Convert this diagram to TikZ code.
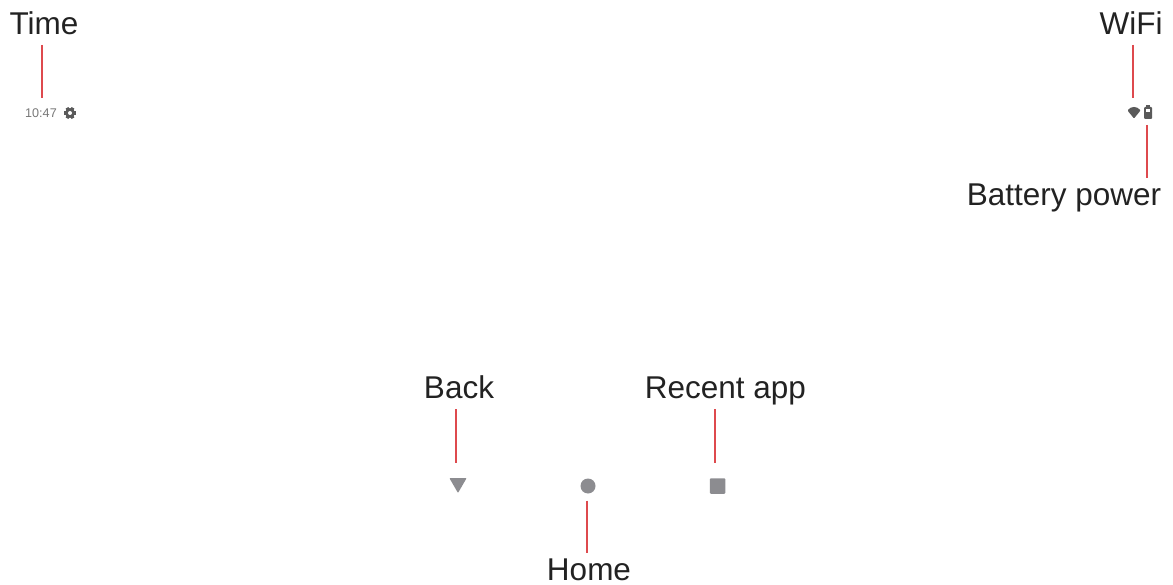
\documentclass[tikz,border=0pt]{standalone}
\usepackage{fontspec}
\setmainfont{Liberation Sans}
\usetikzlibrary{shapes.geometric}
\definecolor{leadred}{HTML}{DE4A4E}
\definecolor{labelink}{HTML}{222222}
\definecolor{softkey}{HTML}{8C8C90}
\definecolor{statusdark}{HTML}{5A5A5A}
\definecolor{clockgrey}{HTML}{777777}
\tikzset{
  lab/.style={anchor=base,inner sep=0pt,outer sep=0pt,text=labelink,font=\fontsize{31.5}{32}\selectfont},
  labdown/.style={lab,text depth=9pt},
  labup/.style={lab,text height=27pt},
  leader/.style={draw=leadred,line width=2.4pt},
  key/.style={fill=softkey,draw=none,inner sep=0pt,outer sep=0pt},
  statusicon/.style={fill=statusdark,draw=none,inner sep=0pt,outer sep=0pt}
}
\begin{document}
\begin{tikzpicture}[x=1pt,y=-1pt]
\useasboundingbox (0,0) rectangle (1173,585);
% labels
\node[labdown] (ltime) at (44,35) {Time};
\node[labdown] (lwifi) at (1131,35) {WiFi};
\node[labup]   (lbatt) at (1064,206) {Battery power};
\node[labdown] (lback) at (459,398) {Back};
\node[labdown] (lrecent) at (725.5,398) {Recent app};
\node[labup]   (lhome) at (589,580) {Home};
% status bar
\node[anchor=center,inner sep=0pt,text=clockgrey,font=\fontsize{12.6}{13}\selectfont,minimum height=15pt] (clock) at (41,113) {10:47};
\node[circle,fill=statusdark,minimum size=10pt,inner sep=0pt] (gear) at (70,113) {};
\foreach \a in {0,60,120}
  \fill[statusdark,rotate around={\a:(gear.center)}] (64,111.4) rectangle (76,114.6);
\fill[white] (gear.center) circle (2pt);
\node[inner sep=0pt,outer sep=0pt,minimum width=14pt,minimum height=12pt] (wifi) at (1134,112.5) {};
\fill[statusdark,rounded corners=0.8pt] (1127.5,110.5) .. controls (1131,106) and (1137,106) .. (1140.5,110.5) -- (1134,118.5) -- cycle;
\node[statusicon,rounded corners=1pt,minimum width=8pt,minimum height=12pt] (batt) at (1148,113) {};
\fill[statusdark] (1146.3,105) rectangle (1149.7,108);
\fill[white] (1145.8,109) rectangle (1150.2,112);
% soft keys
\node[key,regular polygon,regular polygon sides=3,shape border rotate=180,minimum size=20pt,rounded corners=0.8pt] (back) at (458,483) {};
\node[key,circle,minimum size=15pt] (home) at (588,486) {};
\node[key,rounded corners=1pt,minimum size=15.5pt] (recent) at (717.5,486) {};
% connectors
\coordinate (a1) at ([shift={(1,1)}]ltime.south -| clock.north);
\draw[leader,shorten >=7.5pt] (a1) -- (a1 |- clock.north);
\coordinate (a2) at ([shift={(-1,1)}]lwifi.south -| wifi.north);
\draw[leader,shorten >=8pt] (a2) -- (a2 |- wifi.north);
\coordinate (a3) at ([shift={(-1,6)}]batt.south);
\draw[leader,shorten >=1pt] (a3) -- (a3 |- lbatt.north);
\coordinate (a4) at ([shift={(-3,2)}]lback.south);
\draw[leader,shorten >=15pt] (a4) -- (a4 |- back.north);
\coordinate (a5) at ([shift={(-10.5,2)}]lrecent.south);
\draw[leader,shorten >=15pt] (a5) -- (a5 |- recent.north);
\coordinate (a6) at ([shift={(-1,7)}]home.south);
\draw[leader] (a6) -- (a6 |- lhome.north);
\end{tikzpicture}
\end{document}
